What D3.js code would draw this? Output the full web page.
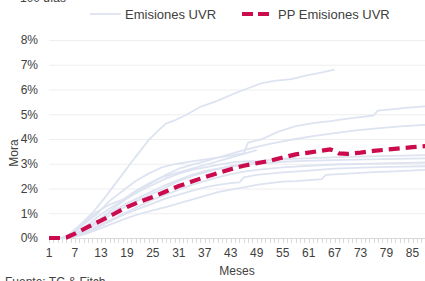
<!DOCTYPE html>
<html>
<head>
<meta charset="utf-8">
<script src="https://cdn.jsdelivr.net/npm/d3@7"></script>
<style>
  body { margin: 0; background: #fff; }
  svg { font-family: "Liberation Sans", Arial, sans-serif; }
</style>
</head>
<body>
<svg id="chart" width="425" height="281"></svg>
<script>
// eje x: meses, eje y: mora (%)
const tickMonths = [1, 7, 13, 19, 25, 31, 37, 43, 49, 55, 61, 67, 73, 79, 85];
const yTicks = [0, 1, 2, 3, 4, 5, 6, 7, 8];

// emisiones individuales [mes, mora %]
const emisionA = [[1,0],[4,0],[5,0.05],[8,0.5],[11,1.0],[14,1.65],[17,2.35],[20,3.05],[22,3.5],[24,3.95],[26,4.3],[28,4.62],[30,4.75],[33,5.0],[36,5.3],[40,5.55],[44,5.85],[47,6.05],[50,6.25],[53,6.35],[57,6.42],[60,6.55],[63,6.65],[67,6.8]];
const emisionB = [[1,0],[4,0],[6,0.1],[9,0.55],[12,0.95],[15,1.5],[18,1.9],[21,2.3],[24,2.6],[27,2.85],[30,2.98],[34,3.1],[38,3.2],[42,3.3],[46,3.42],[47,3.85],[50,3.98],[54,4.3],[58,4.52],[62,4.64],[66,4.72],[70,4.82],[73,4.88],[76,4.95],[77,5.15],[80,5.2],[84,5.27],[88,5.32]];
const emisionC = [[1,0],[4,0],[7,0.1],[10,0.4],[13,0.8],[16,1.2],[19,1.6],[22,1.95],[25,2.25],[28,2.55],[31,2.8],[34,2.95],[37,3.1],[40,3.25],[43,3.4],[46,3.55],[49,3.68],[52,3.8],[55,3.9],[58,4.0],[62,4.12],[67,4.24],[72,4.35],[78,4.45],[83,4.52],[88,4.57]];
const emisionD = [[1,0],[4,0],[7,0.15],[10,0.55],[13,0.95],[16,1.3],[19,1.6],[22,1.9],[25,2.15],[28,2.4],[31,2.6],[34,2.75],[37,2.85],[40,2.95],[43,3.05],[46,3.1],[50,3.12],[55,3.18],[60,3.22],[65,3.25],[70,3.28],[75,3.3],[80,3.32],[88,3.35]];
const emisionE = [[1,0],[4,0],[7,0.1],[10,0.35],[13,0.7],[16,1.0],[19,1.3],[22,1.55],[25,1.8],[28,2.05],[31,2.3],[34,2.5],[37,2.65],[40,2.78],[43,2.88],[46,2.95],[49,3.0],[55,3.08],[60,3.12],[67,3.15],[75,3.18],[88,3.22]];
const emisionF = [[1,0],[4,0],[7,0.08],[10,0.3],[13,0.55],[16,0.8],[19,1.05],[22,1.3],[25,1.55],[28,1.75],[31,1.95],[34,2.15],[37,2.3],[40,2.45],[43,2.58],[46,2.68],[49,2.75],[55,2.85],[61,2.92],[67,2.97],[75,3.0],[88,3.05]];
const emisionG = [[1,0],[4,0],[7,0.05],[10,0.2],[13,0.4],[16,0.6],[19,0.8],[22,0.98],[25,1.12],[28,1.25],[31,1.4],[34,1.55],[37,1.7],[40,1.85],[43,1.95],[46,2.05],[49,2.15],[52,2.22],[55,2.28],[58,2.3],[64,2.38],[65,2.55],[70,2.6],[76,2.66],[82,2.7],[88,2.75]];
const emisionH = [[1,0],[4,0],[7,0.12],[10,0.45],[13,0.8],[16,1.1],[19,1.4],[22,1.65],[25,1.9],[28,2.15],[31,2.35],[34,2.55],[37,2.7],[40,2.8],[43,2.9],[46,3.0],[49,3.08],[52,3.15],[55,3.2],[58,3.25]];
const emisionI = [[1,0],[4,0],[7,0.06],[10,0.25],[13,0.5],[16,0.75],[19,1.0],[22,1.2],[25,1.4],[28,1.6],[31,1.75],[34,1.9],[37,2.05],[40,2.15],[43,2.22],[45,2.25],[46,2.45],[49,2.55],[55,2.65],[61,2.72],[67,2.8],[73,2.84],[80,2.87],[88,2.9]];
const emisionJ = [[1,0],[4,0],[6,0.1],[9,0.6],[12,1.05],[15,1.35],[18,1.55],[21,1.9],[24,2.2],[27,2.45],[30,2.6],[34,2.8],[38,3.0],[42,3.2],[46,3.4],[49,3.55]];

// promedio ponderado
const ppEmisiones = [[1,0],[4,0],[5,0.02],[7,0.18],[10,0.45],[13,0.7],[16,0.97],[19,1.25],[22,1.47],[25,1.66],[28,1.88],[31,2.1],[34,2.28],[37,2.46],[40,2.62],[43,2.78],[46,2.92],[49,3.02],[52,3.12],[55,3.25],[58,3.38],[61,3.45],[64,3.53],[66,3.58],[67,3.52],[68,3.42],[70,3.4],[73,3.45],[76,3.52],[79,3.57],[82,3.62],[85,3.67],[88,3.71]];

const emisiones = [emisionA, emisionB, emisionC, emisionD, emisionE, emisionF, emisionG, emisionH, emisionI, emisionJ];

const svg = d3.select("#chart");
const width = 425;

const x = d3.scaleLinear().domain([1, 88]).range([49, 425.5]);
const y = d3.scaleLinear().domain([0, 8]).range([238, 40]);

// grid
svg.append("g")
  .selectAll("line")
  .data(yTicks.filter(d => d > 0))
  .enter()
  .append("line")
  .attr("x1", x(1))
  .attr("x2", width)
  .attr("y1", d => y(d) + 0.5)
  .attr("y2", d => y(d) + 0.5)
  .attr("stroke", "#eeeeee")
  .attr("stroke-width", 1);

// y axis labels
const yAxis = svg.append("g")
  .attr("transform", "translate(" + (x(1) - 8) + ",0)")
  .call(d3.axisLeft(y).tickValues(yTicks).tickSize(0).tickFormat(d => d + "%"));
yAxis.select(".domain").remove();
yAxis.selectAll("text")
  .style("font-size", "12px")
  .attr("fill", "#404040")
  .attr("font-family", "Liberation Sans, Arial, sans-serif");

// x axis with month minor ticks
const allMonths = d3.range(1, 89);
const xAxis = svg.append("g")
  .attr("transform", "translate(0," + y(0) + ")");
xAxis.append("line")
  .attr("x1", x(1)).attr("x2", width)
  .attr("y1", 0.5).attr("y2", 0.5)
  .attr("stroke", "#d9d9d9");
xAxis.selectAll("line.tk")
  .data(allMonths)
  .enter()
  .append("line")
  .attr("class", "tk")
  .attr("x1", d => Math.round(x(d)) + 0.5)
  .attr("x2", d => Math.round(x(d)) + 0.5)
  .attr("y1", 1).attr("y2", 5)
  .attr("stroke", "#d9d9d9");
xAxis.selectAll("text")
  .data(tickMonths)
  .enter()
  .append("text")
  .attr("x", d => x(d))
  .attr("y", 19)
  .attr("text-anchor", "middle")
  .style("font-size", "12px")
  .attr("fill", "#404040")
  .text(d => d);

const line = d3.line()
  .x(d => x(d[0]))
  .y(d => y(d[1]));

svg.append("clipPath").attr("id", "plot")
  .append("rect").attr("x", x(1)).attr("y", 30).attr("width", width - x(1)).attr("height", 212);

const plot = svg.append("g").attr("clip-path", "url(#plot)");

plot.selectAll("path.em")
  .data(emisiones)
  .enter()
  .append("path")
  .attr("class", "em")
  .attr("d", line)
  .attr("fill", "none")
  .attr("stroke", "#dde3f0")
  .attr("stroke-width", 1.8)
  .attr("stroke-linejoin", "round");

plot.append("path")
  .datum(ppEmisiones)
  .attr("d", line)
  .attr("fill", "none")
  .attr("stroke", "#cc0a4e")
  .attr("stroke-width", 4.2)
  .attr("stroke-dasharray", "11,6")
  .attr("stroke-linejoin", "round");

// legend
const legend = svg.append("g");
legend.append("line")
  .attr("x1", 90).attr("x2", 121).attr("y1", 14).attr("y2", 14)
  .attr("stroke", "#dde3f0").attr("stroke-width", 1.8);
legend.append("text")
  .attr("x", 125).attr("y", 18.5)
  .style("font-size", "13px").attr("fill", "#404040")
  .text("Emisiones UVR");
legend.append("line")
  .attr("x1", 242).attr("x2", 274).attr("y1", 14).attr("y2", 14)
  .attr("stroke", "#cc0a4e").attr("stroke-width", 4.2)
  .attr("stroke-dasharray", "11,5");
legend.append("text")
  .attr("x", 278).attr("y", 18.5)
  .style("font-size", "13px").attr("fill", "#404040")
  .text("PP Emisiones UVR");

// axis titles
svg.append("text")
  .attr("transform", "translate(18,153) rotate(-90)")
  .attr("text-anchor", "middle")
  .style("font-size", "12px").attr("fill", "#404040")
  .text("Mora");
svg.append("text")
  .attr("x", 237).attr("y", 275)
  .attr("text-anchor", "middle")
  .style("font-size", "12px").attr("fill", "#404040")
  .text("Meses");

svg.append("text")
  .attr("x", 5).attr("y", 286)
  .style("font-size", "12px").attr("fill", "#404040")
  .text("Fuente: TC & Fitch");
svg.append("text")
  .attr("x", 20).attr("y", 2)
  .style("font-size", "12px").attr("fill", "#404040")
  .text("100 días");
</script>
</body>
</html>
